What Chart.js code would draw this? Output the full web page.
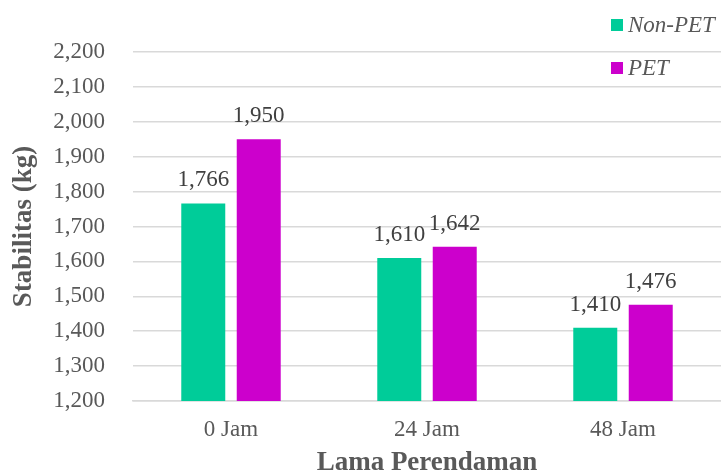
<!DOCTYPE html>
<html>
<head>
<meta charset="utf-8">
<script src="https://cdn.jsdelivr.net/npm/chart.js"></script>
<style>
  html, body { margin: 0; padding: 0; background: #fff; }
  #wrap { width: 721px; height: 470px; }
</style>
</head>
<body>
<div id="wrap"><canvas id="chart" width="721" height="470"></canvas></div>
<script>
// data
const categories = ['0 Jam', '24 Jam', '48 Jam'];
const nonPet = [1766, 1610, 1410];
const pet = [1950, 1642, 1476];
const seriesNames = ['Non-PET', 'PET'];
const seriesColors = ['#00CC99', '#CC00CC'];
const yMin = 1200, yMax = 2200, yStep = 100;

const SERIF = '"Liberation Serif", "Times New Roman", serif';
const fmt = v => Number(v).toLocaleString('en-US');

// value labels above each bar
const barLabels = {
  id: 'barLabels',
  afterDatasetsDraw(chart) {
    const ctx = chart.ctx;
    ctx.save();
    ctx.font = `23px ${SERIF}`;
    ctx.fillStyle = '#404040';
    ctx.textAlign = 'center';
    ctx.textBaseline = 'alphabetic';
    chart.data.datasets.forEach((ds, i) => {
      chart.getDatasetMeta(i).data.forEach((bar, j) => {
        ctx.fillText(fmt(ds.data[j]), bar.x, bar.y - 17);
      });
    });
    ctx.restore();
  }
};

// legend stacked in the top right corner, over the plot
const cornerLegend = {
  id: 'cornerLegend',
  afterDraw(chart) {
    const ctx = chart.ctx;
    ctx.save();
    ctx.font = `italic 23px ${SERIF}`;
    ctx.textBaseline = 'alphabetic';
    ctx.textAlign = 'left';
    chart.data.datasets.forEach((ds, i) => {
      const y = 19 + i * 43;
      ctx.fillStyle = ds.backgroundColor;
      ctx.fillRect(611, y, 12, 12);
      ctx.fillStyle = '#595959';
      ctx.fillText(ds.label, 628, y + 13);
    });
    ctx.restore();
  }
};

new Chart(document.getElementById('chart'), {
  type: 'bar',
  data: {
    labels: categories,
    datasets: [
      { label: seriesNames[0], data: nonPet, backgroundColor: seriesColors[0] },
      { label: seriesNames[1], data: pet, backgroundColor: seriesColors[1] },
    ],
  },
  options: {
    responsive: false,
    animation: false,
    devicePixelRatio: 1,
    categoryPercentage: 0.566,
    barPercentage: 0.793,
    layout: { padding: { top: 52, right: 0, left: 0, bottom: 0 } },
    plugins: {
      legend: { display: false },
      tooltip: { enabled: false },
    },
    scales: {
      x: {
        grid: { display: false, drawTicks: false },
        border: { display: true, color: '#d9d9d9', width: 1.5 },
        ticks: {
          color: '#595959',
          font: { family: SERIF, size: 23 },
          padding: 15,
        },
        title: {
          display: true,
          text: 'Lama Perendaman',
          color: '#595959',
          font: { family: SERIF, size: 27, weight: 'bold', lineHeight: 0.53 },
          padding: 0,
        },
        afterFit(scale) { scale.height = 69; },
      },
      y: {
        min: yMin,
        max: yMax,
        grid: { color: '#d9d9d9', lineWidth: 1.5, drawTicks: false },
        border: { display: false },
        ticks: {
          stepSize: yStep,
          color: '#595959',
          font: { family: SERIF, size: 23 },
          padding: 28,
          callback: v => fmt(v),
        },
        title: {
          display: true,
          text: 'Stabilitas (kg)',
          color: '#595959',
          font: { family: SERIF, size: 27, weight: 'bold', lineHeight: 1.2 },
          padding: { top: 8, bottom: 0 },
        },
        afterFit(scale) { scale.width = 133; },
      },
    },
  },
  plugins: [barLabels, cornerLegend],
});
</script>
</body>
</html>
